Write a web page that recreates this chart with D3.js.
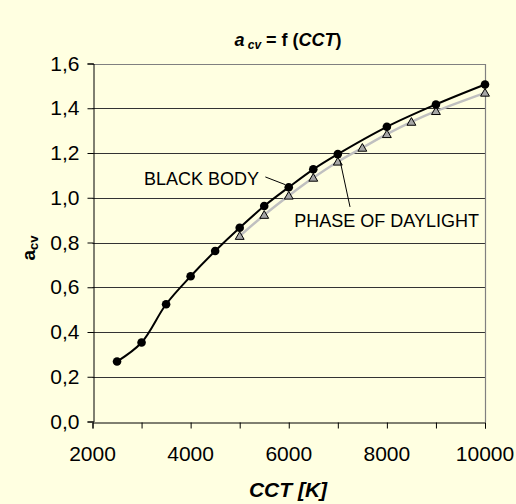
<!DOCTYPE html>
<html>
<head>
<meta charset="utf-8">
<script src="https://cdn.jsdelivr.net/npm/d3@7"></script>
<style>
  html, body { margin: 0; padding: 0; background: #ffffe1; }
  svg { display: block; }
  text { font-family: "Liberation Sans", Arial, sans-serif; fill: #000; }
</style>
</head>
<body>
<svg id="chart" width="516" height="504"></svg>
<script>
// ---- data ----
const bbCCT   = [2500, 3000, 3500, 4000, 4500, 5000, 5500, 6000, 6500, 7000, 8000, 9000, 10000];
const bbValue = [0.268, 0.353, 0.524, 0.649, 0.762, 0.866, 0.963, 1.047, 1.127, 1.195, 1.317, 1.417, 1.506];
const dlCCT   = [5000, 5500, 6000, 6500, 7000, 7500, 8000, 8500, 9000, 10000];
const dlValue = [0.829, 0.923, 1.009, 1.089, 1.161, 1.223, 1.284, 1.339, 1.387, 1.469];
const xTicks = [2000, 3000, 4000, 5000, 6000, 7000, 8000, 9000, 10000];
const xTickLabels = [2000, 4000, 6000, 8000, 10000];
const yTicks = [0, 0.2, 0.4, 0.6, 0.8, 1.0, 1.2, 1.4, 1.6];
const seriesNames = ["BLACK BODY", "PHASE OF DAYLIGHT"];
// label anchors (data units): text position, leader start, leader end
const bbLabel = { x: 5394, y: 1.087, lx1: 5523, ly1: 1.093, lx2: 5924, ly2: 1.059 };
const dlLabel = { x: 6113, y: 0.900, lx1: 7045, ly1: 1.167, lx2: 7249, ly2: 0.959 };

const svg = d3.select("#chart");
const L = 92.5, R = 485, T = 63.5, B = 421.5;
const x = d3.scaleLinear().domain([2000, 10000]).range([L, R]);
const y = d3.scaleLinear().domain([0, 1.6]).range([B, T]);
const fmt = d => d3.format(".1f")(d).replace(".", ",");

svg.append("rect").attr("width", 516).attr("height", 504).attr("fill", "#ffffe1");

// gridlines
svg.append("g").selectAll("line").data(yTicks.filter(d => d > 0 && d < 1.6)).join("line")
  .attr("x1", L).attr("x2", R)
  .attr("y1", d => Math.round(y(d)) + 0.5).attr("y2", d => Math.round(y(d)) + 0.5)
  .attr("stroke", "#333").attr("stroke-width", 1);
// plot border top/right
svg.append("path")
  .attr("d", `M${L},${Math.round(T)+0.5}H${Math.round(R)+0.5}V${Math.round(B)}`)
  .attr("fill", "none").attr("stroke", "#808080").attr("stroke-width", 1.2);

// axes
const xAxis = d3.axisBottom(x).tickValues(xTicks).tickSize(6).tickFormat("");
const gx = svg.append("g").attr("transform", `translate(0,${Math.round(B)+0.5})`).call(xAxis);
gx.select(".domain").attr("stroke", "#000");
gx.selectAll(".tick line").attr("stroke", "#000");
svg.append("g").selectAll("text").data(xTickLabels).join("text")
  .attr("x", d => x(d)).attr("y", 461)
  .attr("text-anchor", "middle").attr("font-size", 21).text(d => d);

const yAxis = d3.axisLeft(y).tickValues(yTicks).tickSize(6).tickFormat(fmt).tickPadding(8);
const gy = svg.append("g").attr("transform", `translate(${Math.round(L)+0.5},0)`).call(yAxis);
gy.select(".domain").attr("stroke", "#000");
gy.selectAll(".tick line").attr("stroke", "#000");
gy.selectAll(".tick text").attr("font-size", 21)
  .attr("font-family", "Liberation Sans, Arial, sans-serif").attr("fill", "#000");

// lines
const line = d3.line().curve(d3.curveCatmullRom.alpha(0.5)).x(d => x(d[0])).y(d => y(d[1]));
const dl = dlCCT.map((c, i) => [c, dlValue[i]]);
const bb = bbCCT.map((c, i) => [c, bbValue[i]]);
svg.append("path").datum(dl).attr("d", line).attr("fill", "none")
  .attr("stroke", "#c0c0c0").attr("stroke-width", 2.5);
svg.append("path").datum(bb).attr("d", line).attr("fill", "none")
  .attr("stroke", "#000").attr("stroke-width", 2);

// markers
const tri = d3.symbol().type(d3.symbolTriangle).size(34);
svg.append("g").selectAll("path").data(dl).join("path")
  .attr("d", tri)
  .attr("transform", d => `translate(${x(d[0])},${y(d[1]) + 0.8})`)
  .attr("fill", "#a6a6a6").attr("stroke", "#000").attr("stroke-width", 1);
svg.append("g").selectAll("circle").data(bb).join("circle")
  .attr("cx", d => x(d[0])).attr("cy", d => y(d[1])).attr("r", 4.3).attr("fill", "#000");

// annotations
svg.append("text").attr("x", x(bbLabel.x)).attr("y", y(bbLabel.y)).attr("dy", "0.36em")
  .attr("text-anchor", "end").attr("font-size", 18).text(seriesNames[0]);
svg.append("line").attr("x1", x(bbLabel.lx1)).attr("y1", y(bbLabel.ly1))
  .attr("x2", x(bbLabel.lx2)).attr("y2", y(bbLabel.ly2)).attr("stroke", "#000").attr("stroke-width", 1);
svg.append("text").attr("x", x(dlLabel.x)).attr("y", y(dlLabel.y)).attr("dy", "0.36em")
  .attr("text-anchor", "start").attr("font-size", 18).text(seriesNames[1]);
svg.append("line").attr("x1", x(dlLabel.lx1)).attr("y1", y(dlLabel.ly1))
  .attr("x2", x(dlLabel.lx2)).attr("y2", y(dlLabel.ly2)).attr("stroke", "#000").attr("stroke-width", 1);

// title
const title = svg.append("text").attr("x", 288).attr("y", 46).attr("text-anchor", "middle")
  .attr("font-size", 18).attr("font-weight", "bold");
title.append("tspan").attr("font-style", "italic").text("a");
title.append("tspan").attr("font-style", "italic").attr("font-size", 12).attr("dy", 3).text(" cv");
title.append("tspan").attr("dy", -3).text(" = f (");
title.append("tspan").attr("font-style", "italic").text("CCT");
title.append("tspan").text(")");

// x axis title
const xt = svg.append("text").attr("x", 288).attr("y", 497).attr("text-anchor", "middle")
  .attr("font-size", 21).attr("font-weight", "bold").attr("font-style", "italic");
xt.append("tspan").text("CCT [K]");

// y axis title
const yt = svg.append("text").attr("transform", "translate(35,248) rotate(-90)")
  .attr("text-anchor", "middle").attr("font-size", 19).attr("font-weight", "bold");
yt.append("tspan").text("a");
yt.append("tspan").attr("font-size", 13).attr("dy", 3).text("cv");
</script>
</body>
</html>
